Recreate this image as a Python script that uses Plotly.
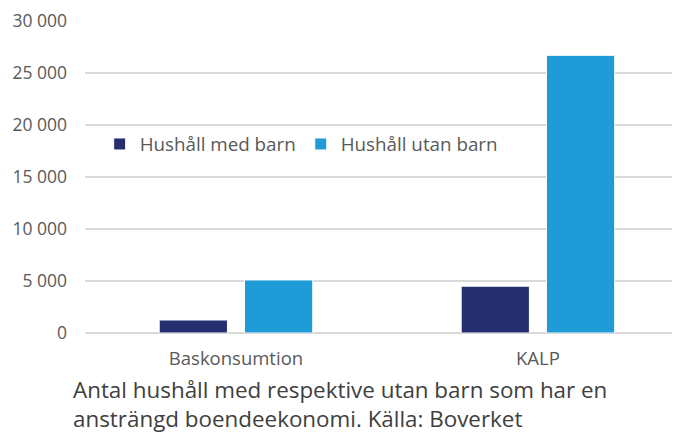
import plotly.graph_objects as go

categories = ["Baskonsumtion", "KALP"]
med_barn = [1250, 4500]
utan_barn = [5100, 26700]
series_names = ["Hushåll med barn", "Hushåll utan barn"]
y_ticks = [0, 5000, 10000, 15000, 20000, 25000, 30000]
caption = "Antal hushåll med respektive utan barn som har en<br>ansträngd boendeekonomi. Källa: Boverket"

FONT = "Open Sans"
fig = go.Figure()
fig.add_trace(go.Bar(x=categories, y=med_barn, name=series_names[0],
                     marker=dict(color="#252E6F", line=dict(color="white", width=1))))
fig.add_trace(go.Bar(x=categories, y=utan_barn, name=series_names[1],
                     marker=dict(color="#1F9BD8", line=dict(color="white", width=1))))

fig.update_layout(
    width=664, height=424,
    margin=dict(l=77, r=0, t=13, b=99),
    plot_bgcolor="white", paper_bgcolor="white",
    barmode="group", bargap=0.435, bargroupgap=0.2,
    separators=", ",
    font=dict(family=FONT, color="#595959", size=17),
    showlegend=True,
    legend=dict(orientation="h", x=0.025, y=0.605, xanchor="left", yanchor="middle",
                font=dict(size=18.8, color="#595959"), itemwidth=30,
                bgcolor="rgba(0,0,0,0)", traceorder="normal"),
    xaxis=dict(range=[-0.5, 1.444], showgrid=False, showline=False, ticks="",
               ticklabelstandoff=12,
               tickfont=dict(size=18.5, color="#595959")),
    yaxis=dict(range=[0, 30000], tickvals=y_ticks, tickformat=",d",
               showgrid=True, gridcolor="#D9D9D9", gridwidth=1.5,
               zeroline=True, zerolinecolor="#D9D9D9", zerolinewidth=1.5,
               showline=False, ticks="", ticklabelstandoff=17,
               tickfont=dict(size=17.5, color="#595959")),
    annotations=[dict(text=caption, xref="paper", yref="paper", x=-0.024, y=-0.125,
                      xanchor="left", yanchor="top", showarrow=False, align="left",
                      font=dict(size=22.4, color="#404040", family=FONT))],
)
fig.write_html("out.html")
